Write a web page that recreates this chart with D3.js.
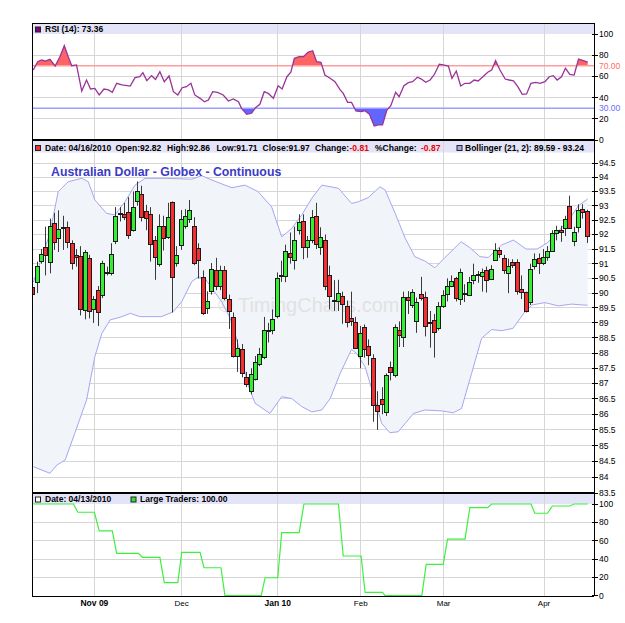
<!DOCTYPE html>
<html><head><meta charset="utf-8">
<script src="https://cdn.jsdelivr.net/npm/d3@7"></script>
<style>body{margin:0;background:#fff}svg{display:block;font-family:"Liberation Sans",Arial,sans-serif}</style>
</head><body>
<svg id="c" width="625" height="623"></svg>
<script>
// ---------- DATA ----------
const open=[90.2,90.4,91.07,91.58,91.05,92.4,91.9,92.27,92.25,91.7,
91.28,91.25,89.45,91.2,89.47,90.1,89.93,90.72,90.66,91.8,
92.72,92.72,92.78,92.15,93.18,93.4,92.8,92.7,91.8,91.0,
92.3,91.9,93.12,91.02,91.62,92.32,92.52,92.3,91.55,90.55,
89.5,90.07,90.8,90.22,90.77,89.8,89.2,87.9,88.12,87.22,
86.75,87.17,87.62,87.87,88.73,88.75,89.22,90.6,90.58,91.35,
91.12,92.17,92.47,91.56,91.82,92.65,91.6,91.82,90.6,89.78,
89.76,89.9,89.57,89.18,89.02,87.9,88.87,88.22,87.83,86.3,
86.5,86.08,87.55,87.3,88.75,88.52,89.87,89.6,89.05,89.97,
89.87,89.0,89.1,88.85,89.57,89.98,90.25,90.5,89.83,89.96,
89.95,90.42,90.64,90.58,90.8,90.5,91.15,91.48,91.2,90.7,
91.05,91.05,90.15,90.03,89.72,90.92,91.2,91.03,91.23,91.43,
92.05,92.15,92.23,93.0,91.8,92.27,92.9,92.82];
const high=[90.33,91.07,91.5,92.27,92.55,92.75,92.84,92.65,92.45,91.8,
91.5,91.6,91.47,91.3,89.9,90.24,91.1,90.9,91.7,92.95,
92.95,93.1,93.3,93.5,93.85,93.7,93.03,92.95,91.95,92.7,
92.65,93.1,93.15,91.6,92.85,92.88,93.2,92.6,91.7,90.77,
90.06,91.02,91.2,90.93,90.92,89.95,89.35,88.45,88.3,87.38,
87.5,87.9,88.17,89.2,89.0,89.45,90.7,91.1,91.65,92.07,
92.27,92.7,92.7,91.95,92.85,93.1,92.25,92.0,90.93,90.44,
90.45,90.05,89.75,90.05,89.2,88.9,88.95,88.45,87.96,86.75,
86.88,87.33,87.72,88.95,89.05,90.05,90.07,90.13,89.85,90.55,
90.05,89.4,89.3,89.7,90.1,90.5,90.6,90.55,90.83,90.3,
90.55,91.0,90.75,90.83,90.9,90.95,91.7,91.55,91.3,91.17,
91.15,91.15,90.6,90.05,91.0,91.35,91.35,91.5,91.6,92.15,
92.3,92.3,92.65,93.35,92.27,93.05,93.05,92.86];
const low=[89.84,90.0,91.0,90.6,90.67,91.47,91.4,91.47,91.53,90.8,
90.9,89.25,89.12,89.15,89.0,88.9,89.83,90.6,90.6,91.67,
92.45,92.5,91.85,92.1,93.0,92.45,92.15,91.07,90.45,90.9,
91.45,91.85,89.35,90.9,91.47,92.2,92.4,90.95,90.5,89.27,
89.3,89.95,90.1,90.1,89.76,88.8,87.85,87.38,87.2,86.88,
86.65,87.1,87.57,87.8,88.35,88.62,89.15,90.38,90.37,91.0,
90.8,92.0,91.15,91.2,91.7,91.5,91.3,90.1,89.45,89.4,
89.4,88.97,88.85,88.9,88.17,87.5,87.85,87.6,85.76,85.5,
86.0,85.95,87.1,87.2,88.2,88.2,89.3,89.5,88.67,89.75,
88.55,88.18,87.85,88.75,89.5,89.72,90.2,89.72,89.6,89.7,
89.9,90.3,90.35,90.05,90.02,90.45,91.15,91.2,90.65,90.0,
90.85,89.95,89.8,89.35,89.6,90.8,90.65,90.95,91.1,91.4,
91.8,91.75,91.95,92.2,91.6,92.07,92.55,91.71];
const close=[89.98,90.93,91.32,91.29,92.3,91.76,92.2,92.22,91.73,91.0,
91.22,89.45,91.4,89.4,89.8,89.37,91.02,90.68,91.32,92.65,
92.76,92.6,92.0,92.95,93.53,92.6,92.55,91.65,91.23,92.3,
91.9,92.6,90.55,91.3,92.52,92.65,92.85,91.02,91.15,89.33,
89.75,90.83,90.25,90.77,89.83,89.4,87.9,88.17,87.32,86.98,
87.3,87.72,87.96,88.75,88.77,89.12,90.5,90.55,91.45,91.23,
91.8,92.45,91.56,91.8,92.6,91.67,91.93,90.25,89.9,89.74,
90.02,89.62,89.05,89.07,88.15,88.67,88.15,87.92,86.28,86.1,
86.33,87.27,87.37,88.87,88.6,89.87,89.76,90.05,89.7,89.85,
88.9,89.04,88.7,89.57,89.95,90.25,90.42,89.83,90.73,90.0,
90.38,90.6,90.66,90.7,90.45,90.83,91.48,91.33,90.78,90.93,
90.95,90.07,90.05,89.4,90.83,91.17,91.02,91.23,91.43,92.05,
92.15,92.08,92.55,92.23,92.1,92.85,92.8,91.97];

const bbUpperIdx=[0,2.3,3.8,5.7,8,11.1,12.6,14.1,16.8,18.7,21,23.3,25.6,30.2,36.3,38.6,40.9,43.9,45.5,48.5,51.5,54.6,56.9,59.2,61.5,63.8,66.1,69.9,72.9,74.5,76.7,79.4,80.6,82.9,85.2,87.4,89.7,92,94.3,98,100,102.3,104.2,107.3,110,112.9,115.4,117.7,120,122.6,124.9,127];
const bbUpper=[90.37,91.35,92.04,93.49,93.84,93.96,93.84,93.2,92.73,92.68,93.14,93.72,93.96,93.96,93.93,94.05,93.9,93.72,93.63,93.72,93.49,92.96,91.92,92.21,92.68,93.26,93.72,93.61,93.08,93.14,93.28,93.66,93.55,92.73,91.87,91.24,91.09,90.86,91.21,91.75,91.55,91.24,91.21,91.64,91.81,91.5,91.5,91.71,92.07,92.5,93.0,93.24];
const bbLowerIdx=[0,3.8,5.4,7.3,9.5,12.2,14.1,15.7,17.6,20.3,22.2,24.4,29.4,32,34,36.3,37.8,39.3,40.9,43.2,45.1,46.4,47.8,49.2,50.8,54.2,56.9,59.2,61.5,63.8,66.1,68,70.3,72.9,74.1,76,78.3,79.8,81.7,83.6,85.2,87.1,89.7,93.6,96.2,98.1,100.4,102.7,105,107.3,109.9,112.6,114.2,117.2,120.3,123.3,127];
const bbLower=[84.33,84.12,84.38,84.54,85.39,86.46,87.88,88.65,89.1,89.21,89.32,89.21,89.21,89.37,89.71,90.39,90.55,90.5,90.17,89.7,89.16,88.56,87.77,86.95,86.36,86.03,86.57,86.51,86.25,86.08,86.14,86.51,87.33,88.12,87.98,87.55,86.46,85.71,85.41,85.44,85.71,86.03,86.14,86.11,86.05,86.19,87.33,88.49,88.78,88.74,88.82,89.37,89.6,89.68,89.57,89.63,89.59];

const rsiIdx=[0,1,1.9,2.8,3.8,5,6.1,7.1,8,8.8,9.9,11.1,12.2,13.1,14.1,15.1,16.2,17.2,18.1,19.1,20.3,22.2,23.3,24.4,25.1,26,27.1,28,29,30,31.1,32.1,33.1,34.1,35.1,36.1,37,38.2,39.2,40.1,41.1,42.2,43.5,44.7,45.8,47,47.7,48.9,50,50.9,51.9,52.9,53.8,55,56.1,57,58.1,59,59.8,60.9,61.9,62.9,64,64.9,65.9,66.8,68,69.1,70.3,71,72,72.9,73.9,75.1,76,77,78.1,79,80,81,81.9,83,83.8,84.9,85.9,86.9,88,88.9,89.9,90.9,91.9,93,93.9,95.1,95.9,96.9,97.9,98.9,100,101,101.9,103,104.1,105,105.9,106.9,108.1,109,110,111,112,113,114,115.1,116.1,117.2,118.2,119.1,120,121,121.9,122.9,123.9,124.9,126,127];
const rsi=[66,73.9,75.5,74.5,76.1,69.8,78.6,89,78.6,70.1,70.8,46.2,56.6,48.1,48.7,42.5,48.1,47.2,45,53.5,51.9,50.9,58.8,59.7,63.5,56,60.7,57.2,64.4,55,60.4,45.6,42.5,49.3,50.3,53.5,42.5,39.3,36.1,37.7,45.6,45,42.5,36.8,38.7,36.1,29.9,24.2,25.2,30.5,33.7,45.6,44,39.3,51.2,48.1,59.7,63.9,77.1,78.6,78.6,82.7,84.2,73.9,73.3,61.3,58.2,55,47.2,44,35.5,35.5,27.4,26.7,27.7,24.2,13.2,14.2,14.2,28.3,32.4,45,40.9,51.2,54.1,55,59.2,57.5,54.4,56.6,62,71.4,70.8,69.8,58.2,65.1,50.9,53.5,53.5,56.6,55.7,59.7,63.9,66,74.8,66,57.5,56.6,55.7,50.3,43.1,43.4,53.5,54.4,53.5,55,59.7,60.7,56.6,59.7,67.6,62,61.3,76.4,74.8,73.36];

const ltIdx=[0,9.2,10.2,14,15.1,18.1,19.1,24.1,25,29,30,33.1,34,38.2,39.1,43,43.9,52.2,53.1,56,56.9,60.9,62,69.9,71,75.1,76,80,80.6,89,90,93.9,94.9,98.9,100,104.1,105,114,114.9,117.8,118.9,122.9,123.9,127];
const lt=[100,100,91,91,70.6,70.6,46.2,46.2,41.9,41.9,14.2,14.2,47.3,47.3,30.5,30.5,0,0,19.6,19.6,68.7,68.7,100,100,43.3,43.3,3.7,3.7,0,0,34.2,34.2,61.8,61.8,96,96,100,100,89.9,89.9,97.8,97.8,100,100];

const monthIdx=[14,34,56,75,94,117];
const monthLabels=["Nov 09","Dec","Jan 10","Feb","Mar","Apr"];
const monthBold=[true,false,true,false,false,false];
const priceTicks=[83.5,84,84.5,85,85.5,86,86.5,87,87.5,88,88.5,89,89.5,90,90.5,91,91.5,92,92.5,93,93.5,94,94.5];
const rsiTicks=[0,20,40,60,80,100];
const ltTicks=[0,20,40,60,80,100];

// ---------- LAYOUT ----------
const W=625,H=623,L=32,R=594,T=23,S1=140,S2=493,B=596;
const svg=d3.select("#c");
svg.append("rect").attr("width",W).attr("height",H).attr("fill","#fff");

const x=d3.scaleLinear().domain([0,close.length-1]).range([33.3,587.7]);
const yP=d3.scaleLog().domain([83.5,95.32]).range([S2,S1]);
const yR=d3.scaleLinear().domain([0,100]).range([S1,34]);
const yL=d3.scaleLinear().domain([0,100]).range([595.7,504]);

const defs=svg.append("defs");
function clip(id,x0,y0,w,h){defs.append("clipPath").attr("id",id).append("rect").attr("x",x0).attr("y",y0).attr("width",w).attr("height",h);}
clip("cR",L,T,R-L,S1-T);
clip("cP",L,S1,R-L,S2-S1);
clip("cL",L,S2,R-L,B-S2);
clip("c70",L,T,R-L,yR(70)-T);
clip("c30",L,yR(30),R-L,S1-yR(30));

// header bands
const bandColor="#e4e4f9";
function band(y0,y1){svg.append("rect").attr("x",L).attr("y",y0).attr("width",R-L).attr("height",y1-y0).attr("fill",bandColor);}
band(T,yR(100)); band(S1,152.5); band(S2,yL(100));

// gridlines
const grid=svg.append("g").attr("stroke","#d6d6d6").attr("stroke-width",1).attr("shape-rendering","crispEdges");
[20,40,60,80].forEach(v=>grid.append("line").attr("x1",L).attr("x2",R).attr("y1",yR(v)).attr("y2",yR(v)));
priceTicks.filter(v=>v>83.5).forEach(v=>grid.append("line").attr("x1",L).attr("x2",R).attr("y1",yP(v)).attr("y2",yP(v)));
[20,40,60,80].forEach(v=>grid.append("line").attr("x1",L).attr("x2",R).attr("y1",yL(v)).attr("y2",yL(v)));
monthIdx.forEach(i=>grid.append("line").attr("x1",x(i)).attr("x2",x(i)).attr("y1",T).attr("y2",B));

// ---------- RSI PANEL ----------
const gR=svg.append("g").attr("clip-path","url(#cR)");
const rsiPts=rsiIdx.map((d,k)=>({i:d,v:rsi[k]}));
const a70=d3.area().x(d=>x(d.i)).y0(yR(70)).y1(d=>yR(d.v));
const a30=d3.area().x(d=>x(d.i)).y0(yR(30)).y1(d=>yR(d.v));
gR.append("g").attr("clip-path","url(#c70)").append("path").attr("d",a70(rsiPts)).attr("fill","#ff6464");
gR.append("g").attr("clip-path","url(#c30)").append("path").attr("d",a30(rsiPts)).attr("fill","#6464ff");
gR.append("line").attr("x1",L).attr("x2",R).attr("y1",yR(70)).attr("y2",yR(70)).attr("stroke","#ff9d9d").attr("stroke-width",1.5);
gR.append("line").attr("x1",L).attr("x2",R).attr("y1",yR(30)).attr("y2",yR(30)).attr("stroke","#9d9dff").attr("stroke-width",1.5);
gR.append("path").attr("d",d3.line().x(d=>x(d.i)).y(d=>yR(d.v))(rsiPts)).attr("fill","none").attr("stroke","#993399").attr("stroke-width",1.3);

// ---------- PRICE PANEL ----------
const gP=svg.append("g").attr("clip-path","url(#cP)");
const bbU=bbUpperIdx.map((d,k)=>[x(d),yP(bbUpper[k])]);
const bbL=bbLowerIdx.map((d,k)=>[x(d),yP(bbLower[k])]);
gP.append("path").attr("d",d3.line()(bbU.concat(bbL.slice().reverse()))+"Z").attr("fill","#f1f4f9");
gP.append("text").attr("x",218).attr("y",312).attr("font-size",20).attr("fill","#e2e2e2").text("\u00a9 TimingCharts.com");
gP.append("path").attr("d",d3.line()(bbU)).attr("fill","none").attr("stroke","#a6a6f2").attr("stroke-width",1);
gP.append("path").attr("d",d3.line()(bbL)).attr("fill","none").attr("stroke","#a6a6f2").attr("stroke-width",1);
gP.append("text").attr("x",51).attr("y",176).attr("font-size",12.3).attr("font-weight","bold").attr("fill","#3b3bc6").text("Australian Dollar - Globex - Continuous");

const candles=gP.append("g");
close.forEach((c,i)=>{
  const o=open[i],h=high[i],l=low[i];
  const cx=Math.round(x(i));
  candles.append("line").attr("x1",cx-0.5).attr("x2",cx-0.5).attr("y1",yP(h)).attr("y2",yP(l)).attr("stroke","#3a3a3a").attr("stroke-width",1);
  const top=yP(Math.max(o,c)),bot=yP(Math.min(o,c));
  candles.append("rect").attr("x",cx-2.5).attr("y",Math.round(top)+0.5).attr("width",4).attr("height",Math.max(1,Math.round(bot-top)))
    .attr("fill",c>=o?"#33ee33":"#f52f2f").attr("stroke","#1a1a1a").attr("stroke-width",1);
});

// ---------- LARGE TRADERS PANEL ----------
const gL=svg.append("g").attr("clip-path","url(#cL)");
gL.append("path").attr("d",d3.line().x(d=>x(d)).y((d,k)=>yL(lt[k]))(ltIdx)).attr("fill","none").attr("stroke","#3ef03e").attr("stroke-width",1.2);

// ---------- FRAME ----------
const fr=svg.append("g").attr("stroke","#000").attr("shape-rendering","crispEdges");
fr.append("line").attr("x1",L).attr("x2",L).attr("y1",T).attr("y2",B);
fr.append("line").attr("x1",R).attr("x2",R).attr("y1",T).attr("y2",B);
fr.append("line").attr("x1",L).attr("x2",R).attr("y1",T).attr("y2",T);
fr.append("line").attr("x1",L).attr("x2",R).attr("y1",S1).attr("y2",S1).attr("stroke-width",2);
fr.append("line").attr("x1",L).attr("x2",R).attr("y1",S2).attr("y2",S2).attr("stroke-width",1.5);
fr.append("line").attr("x1",L).attr("x2",R).attr("y1",B).attr("y2",B);

// ---------- AXES ----------
const ax=svg.append("g").attr("font-size",8.5).attr("fill","#000");
function ytick(y,label,color){
  svg.append("line").attr("x1",R-2).attr("x2",R+4).attr("y1",y).attr("y2",y).attr("stroke","#000").attr("shape-rendering","crispEdges");
  ax.append("text").attr("x",R+5).attr("y",y).attr("dy","0.35em").attr("fill",color||"#000").text(label);
}
rsiTicks.forEach(v=>ytick(yR(v),String(v)));
priceTicks.forEach(v=>ytick(yP(v),String(v)));
ltTicks.forEach(v=>ytick(yL(v),String(v)));
ax.append("text").attr("x",R+5).attr("y",yR(70)).attr("dy","0.35em").attr("fill","#ff6b6b").text("70.00");
ax.append("text").attr("x",R+5).attr("y",yR(30)).attr("dy","0.35em").attr("fill","#6b6bff").text("30.00");

monthIdx.forEach((i,k)=>{
  svg.append("text").attr("x",x(i)).attr("y",606).attr("text-anchor","middle")
    .attr("font-size",monthBold[k]?8.5:8).attr("font-weight",monthBold[k]?"bold":"normal").text(monthLabels[k]);
});

// ---------- HEADERS ----------
function sq(x0,y0,fill){svg.append("rect").attr("x",x0+0.5).attr("y",y0+0.5).attr("width",5).attr("height",5).attr("fill",fill).attr("stroke","#222").attr("stroke-width",1);}
function ht(x0,y0,t,color){svg.append("text").attr("x",x0).attr("y",y0).attr("font-size",8.5).attr("font-weight","bold").attr("fill",color||"#000").text(t);}
sq(35,26.5,"#800080"); ht(45,32.3,"RSI (14): 73.36");
sq(35,145,"#ee3333");
ht(45,151,"Date: 04/16/2010"); ht(115.5,151,"Open:92.82"); ht(167,151,"High:92.86"); ht(216.5,151,"Low:91.71");
ht(262.5,151,"Close:91.97"); ht(315,151,"Change:"); ht(349.5,151,"-0.81","#ee0000"); ht(375,151,"%Change:"); ht(421,151,"-0.87","#ee0000");
sq(456.5,145,"#a6a6f2"); ht(465,151,"Bollinger (21, 2): 89.59 - 93.24");
sq(35,496.5,"#ffffff"); ht(45,502.3,"Date: 04/13/2010");
sq(130.5,496.5,"#33dd33"); ht(140,502.3,"Large Traders: 100.00");
</script>
</body></html>
